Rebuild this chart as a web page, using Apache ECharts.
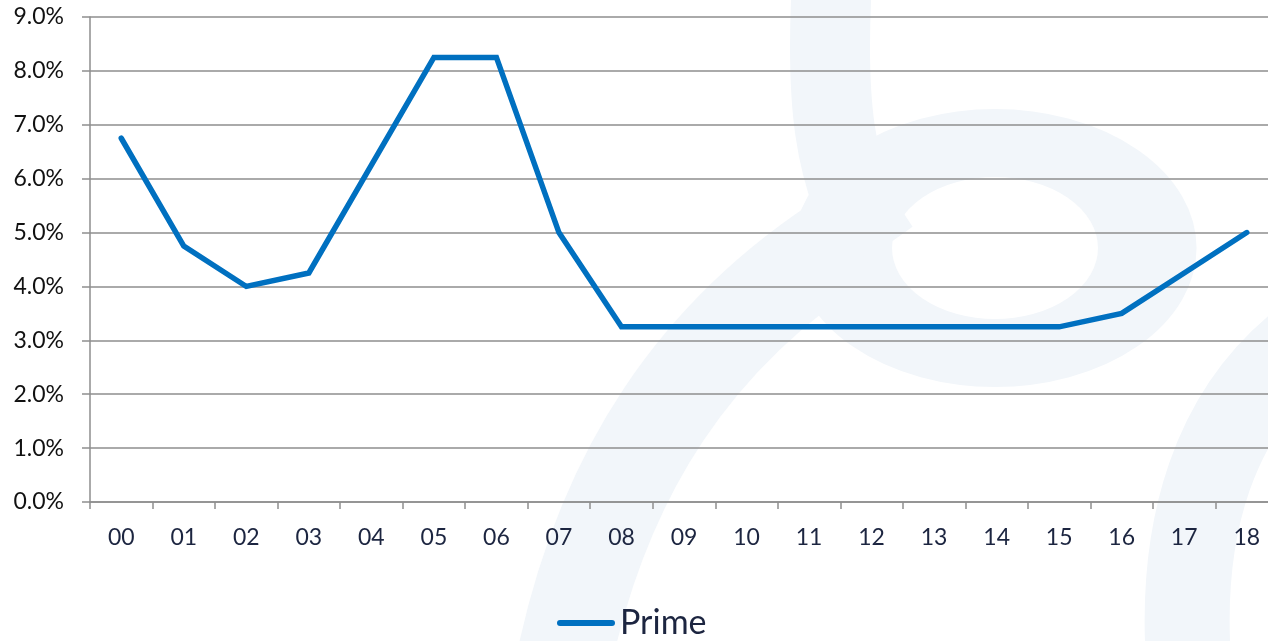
<!DOCTYPE html>
<html>
<head>
<meta charset="utf-8">
<script src="https://cdn.jsdelivr.net/npm/echarts@6/dist/echarts.min.js"></script>
<style>
html,body{margin:0;padding:0;background:#fff;}
#chart{width:1268px;height:641px;}
</style>
</head>
<body>
<div id="chart"></div>
<script>
const categories = ['00','01','02','03','04','05','06','07','08','09','10','11','12','13','14','15','16','17','18'];
const primeValues = [6.75,4.75,4.0,4.25,6.25,8.25,8.25,5.0,3.25,3.25,3.25,3.25,3.25,3.25,3.25,3.25,3.5,4.25,5.0];
const seriesName = 'Prime';

const chart = echarts.init(document.getElementById('chart'), null, {renderer:'canvas'});
const wm = '#f2f6fa';
const fontFam = 'Lato, "Open Sans", sans-serif';
chart.setOption({
  animation:false,
  backgroundColor:'#ffffff',
  graphic:[
    {type:'bezierCurve', z:-10, silent:true,
      shape:{x1:832,y1:-20,cpx1:826,cpy1:90,cpx2:830,cpy2:180,x2:880,y2:250},
      style:{stroke:wm,lineWidth:80,fill:null}},
    {type:'circle', z:-10, silent:true, x:995, y:248, scaleX:1.45, scaleY:1,
      shape:{cx:0,cy:0,r:105},
      style:{stroke:wm,lineWidth:68,fill:null}},
    {type:'bezierCurve', z:-10, silent:true,
      shape:{x1:560,y1:680,cpx1:600,cpy1:470,cpx2:700,cpy2:330,x2:850,y2:235},
      style:{stroke:wm,lineWidth:95,fill:null}},
    {type:'bezierCurve', z:-10, silent:true,
      shape:{x1:1300,y1:345,cpx1:1220,cpy1:410,cpx2:1175,cpy2:520,x2:1190,y2:680},
      style:{stroke:wm,lineWidth:85,fill:null}}
  ],
  grid:{left:90, width:1188, top:17, bottom:139, containLabel:false, outerBoundsMode:'none'},
  legend:{
    data:[seriesName],
    left:552, top:601,
    itemWidth:58, itemHeight:6, itemGap:10,
    icon:'path://M3,0 L55,0 A3,3 0 0 1 55,6 L3,6 A3,3 0 0 1 3,0 Z',
    itemStyle:{color:'#0070c0'},
    textStyle:{fontFamily:fontFam, fontSize:34, color:'#1c2540'}
  },
  xAxis:{
    type:'category', data:categories, boundaryGap:true,
    axisLine:{show:true, lineStyle:{color:'#8e8e8e', width:1.5}},
    axisTick:{show:true, length:7, lineStyle:{color:'#8e8e8e', width:1.5}},
    axisLabel:{fontFamily:fontFam, fontSize:23, color:'#1c2540', margin:24},
    splitLine:{show:false}
  },
  yAxis:{
    type:'value', min:0, max:9, interval:1,
    axisLine:{show:true, lineStyle:{color:'#8e8e8e', width:1.5}},
    axisTick:{show:true, length:8, lineStyle:{color:'#8e8e8e', width:1.5}},
    axisLabel:{fontFamily:fontFam, fontSize:23, color:'#111111', margin:26,
      formatter:function(v){return v.toFixed(1)+'%';}},
    splitLine:{show:true, lineStyle:{color:'#8e8e8e', width:1.5}}
  },
  series:[{
    name:seriesName, type:'line', data:primeValues,
    symbol:'none', smooth:false,
    lineStyle:{color:'#0070c0', width:5.5, cap:'round', join:'miter'},
    itemStyle:{color:'#0070c0'}
  }]
});
</script>
</body>
</html>
